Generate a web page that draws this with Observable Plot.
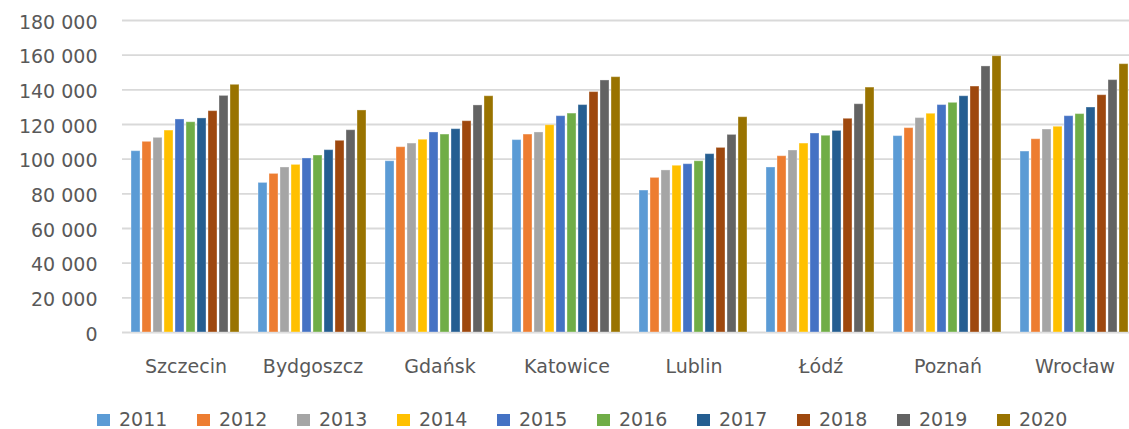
<!DOCTYPE html>
<html>
<head>
<meta charset="utf-8">
<script src="https://cdn.jsdelivr.net/npm/d3@7"></script>
<script src="https://cdn.jsdelivr.net/npm/@observablehq/plot@0.6"></script>
<style>
  html, body { margin: 0; padding: 0; background: #fff; overflow: hidden; width: 1129px; height: 429px; }
  #wrap { position: relative; width: 1129px; height: 429px; }
  #chart { width: 1129px; height: 390px; overflow: hidden; }
  #chart svg { max-width: none !important; }
  #legend { position: absolute; left: 97px; top: 411px; height: 17px; line-height: 17px; display: flex; align-items: center;
    font-family: "DejaVu Sans", sans-serif; font-size: 19px; color: #595959; }
  .item { width: 100px; height: 17px; display: flex; align-items: center; }
  .sw { width: 13px; height: 12px; margin-right: 9px; }
</style>
</head>
<body>
<div id="wrap"><div id="chart"></div><div id="legend"></div></div>
<script>
const cities = ["Szczecin", "Bydgoszcz", "Gdańsk", "Katowice", "Lublin", "Łódź", "Poznań", "Wrocław"];
const years = ["2011", "2012", "2013", "2014", "2015", "2016", "2017", "2018", "2019", "2020"];
const colors = ["#5B9BD5", "#ED7D31", "#A5A5A5", "#FFC000", "#4472C4", "#70AD47", "#255E91", "#9E480E", "#636363", "#997300"];
const yTicks = [0, 20000, 40000, 60000, 80000, 100000, 120000, 140000, 160000, 180000];

// values per year, in the order of cities
const v2011 = [104600, 86300, 98800, 111000, 81900, 95200, 113300, 104400];
const v2012 = [110000, 91500, 106900, 114200, 89200, 101700, 117900, 111500];
const v2013 = [112300, 95200, 109000, 115400, 93500, 105000, 123700, 117100];
const v2014 = [116500, 96700, 111200, 119600, 96200, 109000, 126200, 118700];
const v2015 = [122900, 100400, 115400, 124800, 97100, 114800, 131200, 124800];
const v2016 = [121300, 102100, 114200, 126300, 98800, 113500, 132500, 126000];
const v2017 = [123500, 105200, 117300, 131200, 102900, 116300, 136300, 129800];
const v2018 = [127700, 110600, 121900, 138700, 106500, 123300, 141900, 136900];
const v2019 = [136500, 116700, 131000, 145400, 114000, 131700, 153500, 145600];
const v2020 = [142900, 128100, 136300, 147300, 124200, 141300, 159400, 154800];

const series = [v2011, v2012, v2013, v2014, v2015, v2016, v2017, v2018, v2019, v2020];
const data = [];
years.forEach((yr, i) => cities.forEach((c, j) => data.push({city: c, year: yr, value: series[i][j]})));

const fmt = d => d3.format(",")(d).replace(/,/g, " ");

const chart = Plot.plot({
  width: 1138,
  height: 390,
  marginLeft: 122,
  marginRight: 0,
  marginTop: 20,
  marginBottom: 58,
  style: {fontFamily: "DejaVu Sans, sans-serif", fontSize: "19px", color: "#595959", background: "#fff", overflow: "visible", maxWidth: "none"},
  fx: {domain: cities, paddingInner: 0, paddingOuter: 0, axis: null, label: null},
  x: {domain: years, paddingInner: 0.18, paddingOuter: 0.86, axis: null},
  y: {domain: [0, 180000], axis: null},
  color: {domain: years, range: colors},
  marks: [
    Plot.ruleY(yTicks, {stroke: "#d9d9d9", strokeWidth: 1.8}),
    Plot.barY(data, {fx: "city", x: "year", y: "value", fill: "year", stroke: "#ffffff", strokeOpacity: 0.35, strokeWidth: 1}),
    Plot.axisY({ticks: yTicks, tickSize: 0, tickPadding: 25, tickFormat: fmt, label: null, dy: 2}),
    Plot.axisFx({anchor: "bottom", tickSize: 0, tickPadding: 27, label: null})
  ]
});
document.getElementById("chart").appendChild(chart);

const legend = document.getElementById("legend");
years.forEach((yr, i) => {
  const it = document.createElement("div");
  it.className = "item";
  const sw = document.createElement("span");
  sw.className = "sw";
  sw.style.background = colors[i];
  const tx = document.createElement("span");
  tx.textContent = yr;
  it.appendChild(sw); it.appendChild(tx);
  legend.appendChild(it);
});
</script>
</body>
</html>
